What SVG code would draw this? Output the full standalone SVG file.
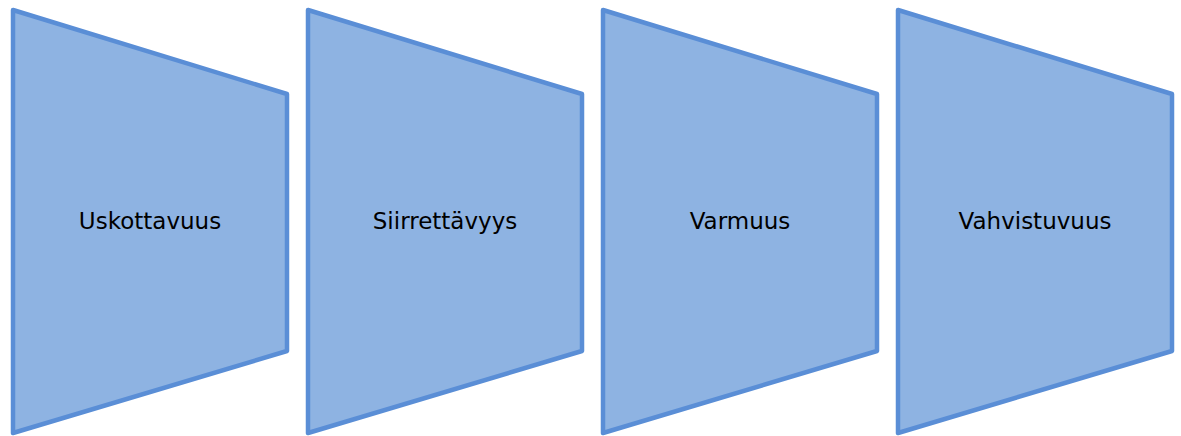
<svg xmlns="http://www.w3.org/2000/svg" width="1181" height="436" viewBox="0 0 1181 436">
<style>
.shape{fill:#8EB3E2;stroke:#5A8ED6;stroke-width:4.5;stroke-linejoin:round}
.lbl{font-family:"DejaVu Sans",sans-serif;font-size:23px;fill:#000;text-anchor:middle}
</style>
<rect width="1181" height="436" fill="#fff"/>
<g id="node1"><polygon class="shape" points="13,10 287,94 287,351 13,433"/><text class="lbl" x="150" y="229">Uskottavuus</text></g>
<g id="node2"><polygon class="shape" points="308,10 582,94 582,351 308,433"/><text class="lbl" x="445" y="229">Siirrettävyys</text></g>
<g id="node3"><polygon class="shape" points="603,10 877,94 877,351 603,433"/><text class="lbl" x="740" y="229">Varmuus</text></g>
<g id="node4"><polygon class="shape" points="898,10 1172,94 1172,351 898,433"/><text class="lbl" x="1035" y="229">Vahvistuvuus</text></g>
<g id="connectors"/>
</svg>
